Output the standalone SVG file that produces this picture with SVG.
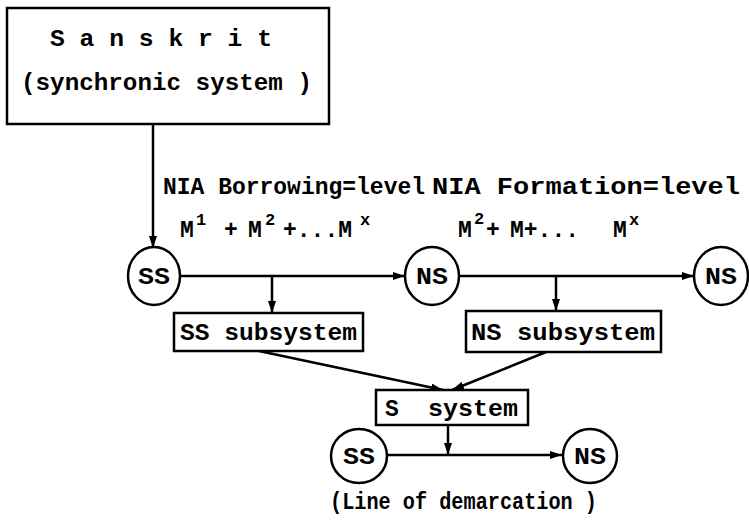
<svg xmlns="http://www.w3.org/2000/svg" width="749" height="520" viewBox="0 0 749 520">
<style>
  .box{fill:#fff;stroke:#000;stroke-width:2.5}
  .circ{fill:#fff;stroke:#000;stroke-width:2.5}
  .ln{fill:none;stroke:#000;stroke-width:2.5}
  text{font-family:"Liberation Mono","DejaVu Sans Mono",monospace;font-weight:bold;fill:#000}
  .t{font-size:23px}
  .c{font-size:23px;text-anchor:middle}
  .sup{font-size:17px}
</style>
<defs>
  <marker id="ah" viewBox="0 0 12 8" refX="12" refY="4" markerWidth="12" markerHeight="8" markerUnits="userSpaceOnUse" orient="auto">
    <path d="M0,0 L12,4 L0,8 Z" fill="#000"/>
  </marker>
</defs>
<rect width="749" height="520" fill="#fff"/>

<g id="connectors">
  <line class="ln" x1="153" y1="124" x2="153" y2="248" marker-end="url(#ah)"/>
  <line class="ln" x1="180" y1="276" x2="405" y2="276" marker-end="url(#ah)"/>
  <line class="ln" x1="459" y1="276" x2="694" y2="276" marker-end="url(#ah)"/>
  <line class="ln" x1="272" y1="276" x2="272" y2="313" marker-end="url(#ah)"/>
  <line class="ln" x1="556" y1="276" x2="556" y2="311" marker-end="url(#ah)"/>
  <line class="ln" x1="259" y1="351" x2="443" y2="390" marker-end="url(#ah)"/>
  <line class="ln" x1="546" y1="352" x2="452" y2="390" marker-end="url(#ah)"/>
  <line class="ln" x1="448" y1="425" x2="448" y2="455" marker-end="url(#ah)"/>
  <line class="ln" x1="387" y1="455" x2="562" y2="455" marker-end="url(#ah)"/>
</g>

<g id="sanskrit">
  <rect class="box" x="7" y="8" width="322" height="116"/>
  <text class="t" x="50" y="46" textLength="222" lengthAdjust="spacingAndGlyphs">S a n s k r i t</text>
  <text class="t" x="21" y="90" textLength="291" lengthAdjust="spacingAndGlyphs">(synchronic system )</text>
</g>

<g id="labels">
  <text class="t" x="163" y="194" textLength="262" lengthAdjust="spacingAndGlyphs">NIA Borrowing=level</text>
  <text class="t" x="432" y="194" textLength="308" lengthAdjust="spacingAndGlyphs">NIA Formation=level</text>
  <text class="t" y="237"><tspan x="180">M</tspan><tspan class="sup" x="196" y="225">1</tspan><tspan x="224" y="237">+</tspan><tspan x="248">M</tspan><tspan class="sup" x="265" y="225">2</tspan><tspan x="283" y="237">+...M</tspan><tspan class="sup" x="360" y="225">x</tspan></text>
  <text class="t" y="237"><tspan x="458">M</tspan><tspan class="sup" x="474" y="224">2</tspan><tspan x="486" y="237">+</tspan><tspan x="510">M+...</tspan><tspan x="613">M</tspan><tspan class="sup" x="629" y="225">x</tspan></text>
</g>

<g id="ss1">
  <ellipse class="circ" cx="154" cy="276" rx="26" ry="29"/>
  <text class="c" x="154" y="284" textLength="32" lengthAdjust="spacingAndGlyphs">SS</text>
</g>
<g id="ns1">
  <ellipse class="circ" cx="432" cy="276" rx="27" ry="29"/>
  <text class="c" x="432" y="284" textLength="32" lengthAdjust="spacingAndGlyphs">NS</text>
</g>
<g id="ns2">
  <ellipse class="circ" cx="721" cy="276" rx="27" ry="29"/>
  <text class="c" x="721" y="284" textLength="32" lengthAdjust="spacingAndGlyphs">NS</text>
</g>

<g id="ss-subsystem">
  <rect class="box" x="174" y="313" width="189" height="38"/>
  <text class="t" x="180" y="340" textLength="177" lengthAdjust="spacingAndGlyphs">SS subsystem</text>
</g>
<g id="ns-subsystem">
  <rect class="box" x="466" y="311" width="195" height="41"/>
  <text class="t" x="471" y="340" textLength="184" lengthAdjust="spacingAndGlyphs">NS subsystem</text>
</g>

<g id="s-system">
  <rect class="box" x="376" y="390" width="152" height="35"/>
  <text class="t" y="416"><tspan x="385">S</tspan><tspan x="428" textLength="90" lengthAdjust="spacingAndGlyphs">system</tspan></text>
</g>

<g id="ss2">
  <ellipse class="circ" cx="359" cy="456" rx="28" ry="27"/>
  <text class="c" x="359" y="464" textLength="32" lengthAdjust="spacingAndGlyphs">SS</text>
</g>
<g id="ns3">
  <ellipse class="circ" cx="590" cy="456" rx="27" ry="27"/>
  <text class="c" x="590" y="464" textLength="32" lengthAdjust="spacingAndGlyphs">NS</text>
</g>

<g id="caption">
  <text class="t" x="330" y="509" textLength="267" lengthAdjust="spacingAndGlyphs">(Line of demarcation )</text>
</g>
</svg>
